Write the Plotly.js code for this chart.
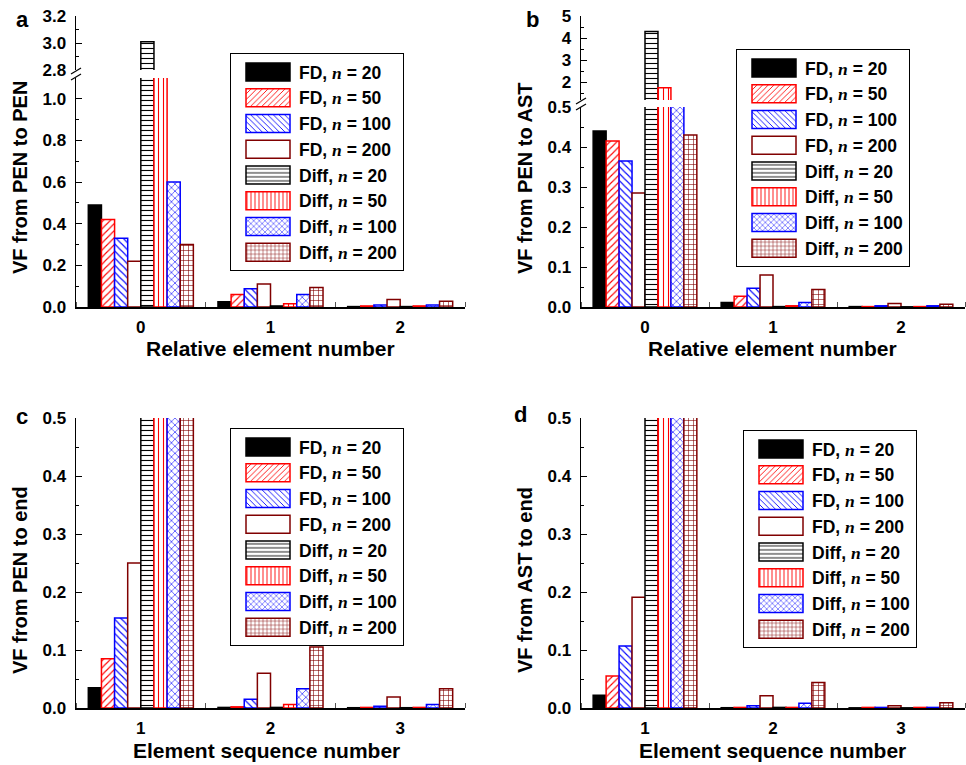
<!DOCTYPE html>
<html>
<head>
<meta charset="utf-8">
<script src="https://cdn.plot.ly/plotly-3.0.1.min.js"></script>
<style>html,body{margin:0;padding:0;background:#fff;}#chart{width:966px;height:765px;}</style>
</head>
<body>
<div id="chart"></div>
<script>
// ---------- data ----------
const catsRel = [0, 1, 2];          // panels a, b: relative element number
const catsSeq = [1, 2, 3];          // panels c, d: element sequence number
const seriesNames = ['FD, n = 20','FD, n = 50','FD, n = 100','FD, n = 200',
                     'Diff, n = 20','Diff, n = 50','Diff, n = 100','Diff, n = 200'];

// (a) VF from PEN to PEN
const a_FD20    = [0.49, 0.025, 0.002];
const a_FD50    = [0.42, 0.060, 0.005];
const a_FD100   = [0.33, 0.088, 0.010];
const a_FD200   = [0.22, 0.110, 0.036];
const a_Diff20  = [3.01, 0.005, 0.002];
const a_Diff50  = [1.70, 0.016, 0.005];
const a_Diff100 = [0.60, 0.060, 0.010];
const a_Diff200 = [0.30, 0.094, 0.028];

// (b) VF from PEN to AST
const b_FD20    = [0.44, 0.011, 0.001];
const b_FD50    = [0.415, 0.027, 0.001];
const b_FD100   = [0.365, 0.047, 0.003];
const b_FD200   = [0.285, 0.080, 0.009];
const b_Diff20  = [4.30, 0.001, 0.0005];
const b_Diff50  = [1.75, 0.003, 0.001];
const b_Diff100 = [0.90, 0.011, 0.003];
const b_Diff200 = [0.43, 0.044, 0.007];

// (c) VF from PEN to end
const c_FD20    = [0.035, 0.001, 0.0005];
const c_FD50    = [0.085, 0.002, 0.001];
const c_FD100   = [0.155, 0.015, 0.003];
const c_FD200   = [0.25, 0.060, 0.019];
const c_Diff20  = [0.95, 0.001, 0.0005];
const c_Diff50  = [0.90, 0.006, 0.001];
const c_Diff100 = [0.85, 0.033, 0.006];
const c_Diff200 = [0.80, 0.105, 0.033];

// (d) VF from AST to end
const d_FD20    = [0.022, 0.0005, 0.0003];
const d_FD50    = [0.055, 0.001, 0.001];
const d_FD100   = [0.107, 0.004, 0.001];
const d_FD200   = [0.191, 0.021, 0.004];
const d_Diff20  = [0.95, 0.001, 0.0003];
const d_Diff50  = [0.90, 0.001, 0.001];
const d_Diff100 = [0.85, 0.008, 0.001];
const d_Diff200 = [0.80, 0.044, 0.009];

// ---------- styles ----------
const FONT = 'Arial, "Liberation Sans", sans-serif';
const DR = '#800000';
const styles = [
  {line:'#000', fill:'#000', shape:''},
  {line:'#ff0000', fill:'#ff0000', shape:'/'},
  {line:'#0000ff', fill:'#0000ff', shape:'\\'},
  {line:DR, fill:'#ffffff', shape:''},
  {line:'#000', fill:'#000', shape:'-'},
  {line:'#ff0000', fill:'#ff0000', shape:'|'},
  {line:'#0000ff', fill:'#0000ff', shape:'x'},
  {line:DR, fill:DR, shape:'+'}
];
function legendLabel(name){
  return name.replace('n =', '<i><span style="font-family:Liberation Serif">n</span></i> =');
}
function makeTraces(cats, seriesVals, xa, ya, legendId, showLeg){
  return seriesVals.map((vals, i) => {
    const s = styles[i];
    const marker = {color: s.fill, line:{color: s.line, width:1.5}};
    if (s.shape) {
      marker.pattern = {shape: s.shape, fgcolor: s.fill, bgcolor:'#ffffff', size: 5, solidity: 0.22, fillmode:'replace'};
    }
    return {type:'bar', x: cats, y: vals, xaxis: xa, yaxis: ya, name: legendLabel(seriesNames[i]),
            marker: marker, legend: legendId, showlegend: showLeg, hoverinfo:'skip'};
  });
}
const A = [a_FD20,a_FD50,a_FD100,a_FD200,a_Diff20,a_Diff50,a_Diff100,a_Diff200];
const B = [b_FD20,b_FD50,b_FD100,b_FD200,b_Diff20,b_Diff50,b_Diff100,b_Diff200];
const C = [c_FD20,c_FD50,c_FD100,c_FD200,c_Diff20,c_Diff50,c_Diff100,c_Diff200];
const D = [d_FD20,d_FD50,d_FD100,d_FD200,d_Diff20,d_Diff50,d_Diff100,d_Diff200];

const traces = [].concat(
  makeTraces(catsRel, A, 'x', 'y', 'legend', true),
  makeTraces(catsRel, A, 'x', 'y2', 'legend', false),
  makeTraces(catsRel, B, 'x2', 'y3', 'legend2', true),
  makeTraces(catsRel, B, 'x2', 'y4', 'legend2', false),
  makeTraces(catsSeq, C, 'x3', 'y5', 'legend3', true),
  makeTraces(catsSeq, D, 'x4', 'y6', 'legend4', true)
);

// ---------- layout helpers (pixel -> paper) ----------
const W = 966, H = 765;
const px = v => v / W;
const py = v => 1 - v / H;
const tickFont = {family: FONT, size: 17, color:'#000', weight: 'bold'};

function xAxis(l, r, anchor, vals){
  return {domain:[px(l), px(r)], anchor: anchor, range:[vals[0]-0.5, vals[2]+0.5],
    tickmode:'array', tickvals: vals, ticktext: vals.map(String), ticks:'',
    showline:true, linecolor:'#000', linewidth:1.5, showgrid:false, zeroline:false,
    tickfont: tickFont, ticklabelstandoff: 4,
    minor:{tick0: vals[0]+0.5, dtick:1, ticks:'inside', ticklen:5, tickwidth:1, tickcolor:'#555', showgrid:false}};
}
function yAxis(top, bottom, anchor, range, opts){
  return Object.assign({domain:[py(bottom), py(top)], anchor: anchor, range: range,
    ticks:'inside', ticklen:6, tickwidth:1, tickcolor:'#000',
    showline:true, linecolor:'#000', linewidth:1.5, showgrid:false, zeroline:false,
    tickfont: tickFont, ticklabelstandoff: 5}, opts);
}
function legendBox(l, t){
  return {x: px(l), y: py(t), xanchor:'left', yanchor:'top', bgcolor:'#fff',
    bordercolor:'#000', borderwidth:1, font:{family: FONT, size:17.5, color:'#000', weight:'bold'},
    itemwidth: 58, tracegroupgap: 0, traceorder:'normal', itemclick:false};
}
function ann(text, x, y, size, angle){
  return {text: text, x: px(x), y: py(y), xref:'paper', yref:'paper', showarrow:false,
    xanchor:'center', yanchor:'middle', textangle: angle || 0,
    font:{family: FONT, size: size, color:'#000', weight: 'bold'}};
}
function brk(x, y){
  return [
    {type:'line', xref:'paper', yref:'paper', x0:px(x-5), y0:py(y+1), x1:px(x+5), y1:py(y-5), line:{color:'#000', width:1.2}},
    {type:'line', xref:'paper', yref:'paper', x0:px(x-5), y0:py(y+7), x1:px(x+5), y1:py(y+1), line:{color:'#000', width:1.2}}
  ];
}

const layout = {
  width: W, height: H, margin:{l:0, r:0, t:0, b:0},
  paper_bgcolor:'#fff', plot_bgcolor:'rgba(0,0,0,0)',
  barmode:'group', bargap:0.19, bargroupgap:0,
  showlegend:true,
  // panel a
  xaxis:  xAxis(76, 465, 'y', catsRel),
  yaxis:  yAxis(78, 307, 'x', [0, 1.1], {dtick:0.2, tick0:0, tickformat:'.1f',
            minor:{dtick:0.1, ticks:'inside', ticklen:3, tickcolor:'#000'}}),
  yaxis2: yAxis(16, 70, 'x', [2.8, 3.2], {tickmode:'array', tickvals:[2.8,3.0,3.2], tickformat:'.1f',
            minor:{tick0:2.8, dtick:0.1, ticks:'inside', ticklen:3, tickcolor:'#000'}}),
  // panel b
  xaxis2: xAxis(581, 965, 'y3', catsRel),
  yaxis3: yAxis(107, 307, 'x2', [0, 0.5], {dtick:0.1, tick0:0, tickformat:'.1f',
            minor:{dtick:0.05, ticks:'inside', ticklen:3, tickcolor:'#000'}}),
  yaxis4: yAxis(16, 100, 'x2', [1.2, 5], {tickmode:'array', tickvals:[2,3,4,5],
            minor:{tick0:1, dtick:0.5, ticks:'inside', ticklen:3, tickcolor:'#000'}}),
  // panel c
  xaxis3: xAxis(76, 465, 'y5', catsSeq),
  yaxis5: yAxis(418, 708, 'x3', [0, 0.5], {dtick:0.1, tick0:0, tickformat:'.1f',
            minor:{dtick:0.05, ticks:'inside', ticklen:3, tickcolor:'#000'}}),
  // panel d
  xaxis4: xAxis(581, 965, 'y6', catsSeq),
  yaxis6: yAxis(418, 708, 'x4', [0, 0.5], {dtick:0.1, tick0:0, tickformat:'.1f',
            minor:{dtick:0.05, ticks:'inside', ticklen:3, tickcolor:'#000'}}),
  legend:  legendBox(230, 53),
  legend2: legendBox(736, 49),
  legend3: legendBox(230, 428),
  legend4: legendBox(743, 430),
  annotations: [
    ann('a', 22, 19, 22), ann('b', 532, 19, 22), ann('c', 22, 417, 22), ann('d', 520, 415, 22),
    ann('VF from PEN to PEN', 20, 178, 20, -90),
    ann('VF from PEN to AST', 525, 179, 20, -90),
    ann('VF from PEN to end', 20, 580, 20, -90),
    ann('VF from AST to end', 525, 580, 20, -90),
    ann('Relative element number', 270, 349, 21),
    ann('Relative element number', 772, 349, 21),
    ann('Element sequence number', 266, 750, 21),
    ann('Element sequence number', 772, 750, 21)
  ],
  shapes: [].concat(brk(76, 73), brk(581, 103))
};

Plotly.newPlot('chart', traces, layout, {staticPlot:true}).then(gd => {
  gd.querySelectorAll('.legendpoints path').forEach(p => {
    p.setAttribute('d', 'M25,9H-19V-9H25Z');
  });
});
</script>
</body>
</html>
